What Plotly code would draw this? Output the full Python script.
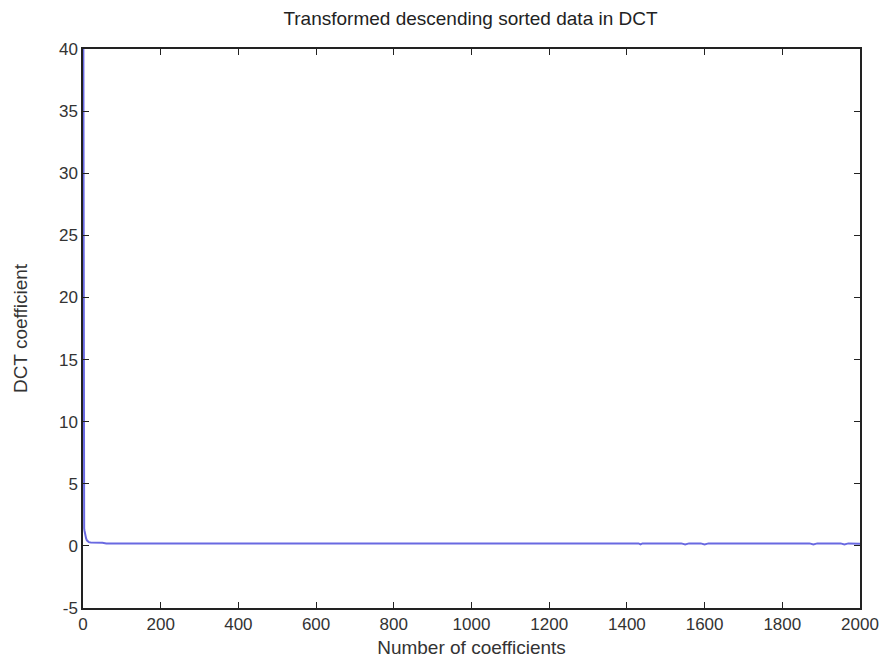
import plotly.graph_objects as go

# Data (coefficient index, DCT coefficient value)
coef_index = [1, 2, 3, 4, 5, 6, 8, 10, 12, 15, 20, 30, 40, 50, 60, 500, 950, 1430, 1435, 1440,
              1540, 1550, 1560, 1590, 1600, 1610, 1870, 1880, 1890, 1950, 1960, 1970, 2000]
coef_value = [40.0, 1.6, 1.4, 1.2, 1.0, 0.8, 0.6, 0.45, 0.35, 0.3, 0.28, 0.28, 0.27, 0.25, 0.2, 0.2, 0.2, 0.2, 0.12, 0.2,
              0.2, 0.12, 0.2, 0.2, 0.12, 0.2, 0.2, 0.12, 0.2, 0.2, 0.12, 0.2, 0.18]

x_ticks = [0, 200, 400, 600, 800, 1000, 1200, 1400, 1600, 1800, 2000]
y_ticks = [-5, 0, 5, 10, 15, 20, 25, 30, 35, 40]

FONT = "Liberation Sans, Arial"

fig = go.Figure()
fig.add_trace(go.Scatter(
    x=coef_index, y=coef_value, mode="lines",
    line=dict(color="rgb(105,105,225)", width=2),
    showlegend=False,
))

axis_common = dict(
    showline=True, linecolor="#222222", linewidth=1.5, mirror="ticks",
    ticks="inside", ticklen=6, tickwidth=1.3, tickcolor="#222222",
    showgrid=False, zeroline=False,
    tickfont=dict(family=FONT, size=17, color="#333333"),
)

fig.update_layout(
    width=887, height=663,
    paper_bgcolor="white", plot_bgcolor="white",
    margin=dict(l=73, r=35, t=41, b=63),
    title=dict(text="Transformed descending sorted data in DCT",
               x=(73 + 852) / 2 / 887, xanchor="center", y=1 - 10 / 663, yanchor="middle",
               font=dict(family=FONT, size=19, color="#222222")),
    xaxis=dict(range=[0, 2000], tickvals=x_ticks, ticktext=[str(v) for v in x_ticks],
               title=dict(text="Number of coefficients", standoff=8,
                          font=dict(family=FONT, size=19, color="#333333")),
               **axis_common),
    yaxis=dict(range=[-5, 40], tickvals=y_ticks, ticktext=[str(v) for v in y_ticks],
               title=dict(text="DCT coefficient", standoff=26,
                          font=dict(family=FONT, size=19, color="#333333")),
               **axis_common),
)

fig.write_html("out.html")
